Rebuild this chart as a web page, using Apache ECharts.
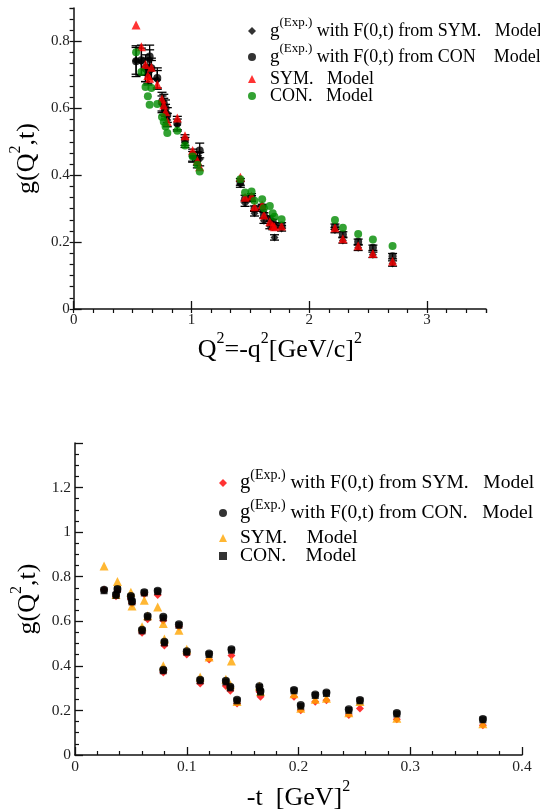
<!DOCTYPE html>
<html><head><meta charset="utf-8">
<script src="https://cdn.jsdelivr.net/npm/echarts@6/dist/echarts.min.js"></script>
<style>html,body{margin:0;padding:0;background:#fff}#c{width:540px;height:812px}</style>
</head><body><div id="c"></div>
<script>
// ---------- Top panel: g(Q^2,t) vs Q^2 ----------
const topQ2 = [0.53,0.575,0.61,0.63,0.645,0.66,0.71,0.75,0.765,0.78,0.795,0.88,0.945,1.01,1.05,1.07,
  1.415,1.455,1.51,1.535,1.60,1.615,1.665,1.69,1.705,1.765,
  2.218,2.285,2.415,2.54,2.707];
const topSymExp = [0.742,0.74,0.715,0.70,0.745,0.715,0.685,0.612,0.605,0.59,0.565,0.55,0.498,0.455,0.44,0.448,
  0.373,0.316,0.33,0.286,0.30,0.264,0.248,0.245,0.214,0.241,
  0.236,0.205,0.183,0.162,0.136];
const topConExp = [0.741,0.744,0.72,0.71,0.755,0.72,0.691,0.62,0.615,0.60,0.58,0.556,0.505,0.46,0.45,0.474,
  0.38,0.33,0.335,0.30,0.305,0.28,0.27,0.26,0.25,0.25,
  0.246,0.223,0.201,0.183,0.158];
const topSymModel = [0.849,0.784,0.731,0.698,0.69,0.723,0.671,0.628,0.61,0.59,0.561,0.571,0.518,0.474,0.444,0.425,
  0.394,0.334,0.338,0.306,0.311,0.281,0.261,0.25,0.246,0.248,
  0.243,0.21,0.189,0.166,0.143];
const topConModel = [0.768,0.709,0.664,0.636,0.611,0.661,0.613,0.574,0.56,0.546,0.526,0.533,0.489,0.456,0.431,0.411,
  0.388,0.348,0.351,0.324,0.328,0.301,0.308,0.286,0.276,0.268,
  0.266,0.243,0.224,0.208,0.188];
const topErrConExp = [0.046,0.045,0.04,0.035,0.034,0.03,0.03,0.028,0.027,0.025,0.022,0.02,0.016,0.018,0.02,0.022,
  0.01,0.01,0.01,0.008,0.008,0.008,0.008,0.008,0.008,0.008,
  0.008,0.008,0.008,0.008,0.008];
const topErrSymExp = [0.04,0.04,0.035,0.03,0.03,0.028,0.028,0.025,0.025,0.022,0.02,0.018,0.015,0.016,0.018,0.02,
  0.009,0.009,0.009,0.008,0.008,0.008,0.008,0.008,0.008,0.008,
  0.008,0.008,0.008,0.008,0.008];

// ---------- Bottom panel: g(Q^2,t) vs -t ----------
const botT = [0.026,0.0367,0.038,0.050,0.051,0.060,0.062,0.065,0.074,0.079,0.080,0.079,0.093,0.100,0.112,0.120,
  0.135,0.139,0.140,0.145,0.165,0.166,0.196,0.202,0.215,0.225,0.245,0.255,0.288,0.365];
const botSymExp = [0.742,0.712,0.735,0.70,0.68,0.549,0.721,0.609,0.718,0.604,0.491,0.370,0.575,0.451,0.321,0.428,
  0.310,0.288,0.446,0.231,0.284,0.261,0.261,0.201,0.239,0.246,0.179,0.209,0.160,0.134];
const botConExp = [0.742,0.72,0.745,0.714,0.69,0.562,0.73,0.624,0.737,0.62,0.508,0.383,0.587,0.466,0.338,0.456,
  0.333,0.306,0.474,0.248,0.308,0.287,0.292,0.224,0.271,0.281,0.205,0.247,0.188,0.162];
const botSymModel = [0.848,0.72,0.778,0.730,0.669,0.575,0.694,0.625,0.664,0.590,0.52,0.40,0.560,0.475,0.35,0.44,
  0.34,0.315,0.422,0.24,0.31,0.285,0.275,0.21,0.25,0.255,0.19,0.24,0.165,0.14];
const botConModel = [0.737,0.716,0.742,0.709,0.687,0.557,0.727,0.619,0.733,0.615,0.503,0.378,0.582,0.461,0.333,0.451,
  0.328,0.301,0.470,0.243,0.303,0.282,0.288,0.219,0.267,0.276,0.200,0.243,0.184,0.158];

const topXTicks = [0, 1, 2, 3];
const topYTicks = [0, 0.2, 0.4, 0.6, 0.8];
const botXTicks = [0, 0.1, 0.2, 0.3, 0.4];
const botYTicks = [0, 0.2, 0.4, 0.6, 0.8, 1, 1.2];

const legendLabels = {
  tSymExp: '{g|g}{sup|(Exp.)}{t| with F(0,t) from SYM.   Model}',
  tConExp: '{g|g}{sup|(Exp.)}{t| with F(0,t) from CON    Model}',
  tSymMod: '{t|SYM.   Model}',
  tConMod: '{t|CON.   Model}',
  bSymExp: '{g|g}{sup|(Exp.)}{t| with F(0,t) from SYM.   Model}',
  bConExp: '{g|g}{sup|(Exp.)}{t| with F(0,t) from CON.   Model}',
  bSymMod: '{t|SYM.    Model}',
  bConMod: '{t|CON.    Model}'
};

const pairs = (xs, ys) => xs.map((x, i) => [x, ys[i]]);
const triples = (xs, ys, es) => xs.map((x, i) => [x, ys[i], es[i]]);

const SERIF = '"Liberation Serif","DejaVu Serif",serif';

function errRender(params, api) {
  const x = api.value(0), y = api.value(1), e = api.value(2);
  const p1 = api.coord([x, y + e]), p2 = api.coord([x, y - e]);
  const w = 4.5;
  const st = { stroke: '#000', lineWidth: 1.3 };
  return { type: 'group', children: [
    { type: 'line', shape: { x1: p1[0], y1: p1[1], x2: p2[0], y2: p2[1] }, style: st },
    { type: 'line', shape: { x1: p1[0] - w, y1: p1[1], x2: p1[0] + w, y2: p1[1] }, style: st },
    { type: 'line', shape: { x1: p2[0] - w, y1: p2[1], x2: p2[0] + w, y2: p2[1] }, style: st }
  ]};
}

const axisLineStyle = { color: '#111', width: 1.5 };
const labelStyle = (fs) => ({ fontFamily: SERIF, fontSize: fs, color: '#222' });

function mainAxis(grid, min, max, interval, ticks, fs, extra) {
  return Object.assign({
    type: 'value', gridIndex: grid, min, max, interval,
    axisLine: { show: true, onZero: false, lineStyle: axisLineStyle },
    axisTick: { show: true, inside: true, length: 8, lineStyle: { color: '#111', width: 1.3 } },
    axisLabel: Object.assign({ margin: 4, showMaxLabel: ticks.indexOf(max) >= 0,
      formatter: v => (ticks.some(t => Math.abs(t - v) < 1e-9) ? String(+v.toFixed(2)) : '') }, labelStyle(fs)),
    splitLine: { show: false }
  }, extra || {});
}
function minorAxis(grid, min, max, interval) {
  return {
    type: 'value', gridIndex: grid, min, max, interval,
    axisLine: { show: false },
    axisTick: { show: true, inside: true, length: 4, lineStyle: { color: '#111', width: 1.2 } },
    axisLabel: { show: false }, splitLine: { show: false }
  };
}

const nameRich = (fs) => ({
  s: { fontFamily: SERIF, fontSize: Math.round(fs * 0.62), verticalAlign: 'top', lineHeight: Math.round(fs * 0.62), color: '#000' },
  n: { fontFamily: SERIF, fontSize: fs, lineHeight: fs + 6, verticalAlign: 'bottom', color: '#000' }
});

function legendItem(name, left, top, fs, supFs, pad) {
  return {
    data: [name], left, top, orient: 'vertical', itemWidth: 8, itemHeight: 8, padding: 0,
    formatter: n => legendLabels[n],
    textStyle: {
      fontFamily: SERIF, fontSize: fs, color: '#000',
      rich: {
        g: { fontFamily: SERIF, fontSize: fs + 1, lineHeight: 30, color: '#000', padding: [0, 0, 0, pad] },
        sup: { fontFamily: SERIF, fontSize: supFs, lineHeight: supFs + 2, verticalAlign: 'top', color: '#000' },
        t: { fontFamily: SERIF, fontSize: fs, lineHeight: 20, color: '#000', padding: legendLabels[name].startsWith('{t') ? [0, 0, 0, pad] : 0 }
      }
    }
  };
}

const option = {
  backgroundColor: '#fff',
  animation: false,
  grid: [
    { left: 72, right: 54, top: 8, height: 301 },
    { left: 75, right: 18, top: 443, height: 312 }
  ],
  xAxis: [
    mainAxis(0, 0, 3.5, 1, topXTicks, 15, {
      name: '{n|Q}{s|2}{n|=-q}{s|2}{n|[GeV/c]}{s|2}', nameLocation: 'middle', nameGap: 22,
      nameTextStyle: { rich: nameRich(26) }
    }),
    mainAxis(1, 0, 0.4, 0.1, botXTicks, 15.5, {
      name: '{n|-t  [GeV]}{s|2}', nameLocation: 'middle', nameGap: 24,
      nameTextStyle: { rich: nameRich(26) },
      minorTick: { show: true, splitNumber: 5, length: 4, lineStyle: { color: '#111', width: 1.2 } }
    }),
    minorAxis(0, 0, 3.5, 1 / 6)
  ],
  yAxis: [
    mainAxis(0, 0, 0.9, 0.2, topYTicks, 15, {
      name: '{n|g(Q}{s|2}{n|,t)}', nameLocation: 'middle', nameGap: 26,
      nameTextStyle: { rich: nameRich(26) }
    }),
    mainAxis(1, 0, 1.4, 0.2, botYTicks, 15.5, {
      name: '{n|g(Q}{s|2}{n|,t)}', nameLocation: 'middle', nameGap: 29,
      nameTextStyle: { rich: nameRich(26) },
      minorTick: { show: true, splitNumber: 4, length: 4, lineStyle: { color: '#111', width: 1.2 } }
    }),
    minorAxis(0, 0, 0.9, 1 / 30)
  ],
  legend: [
    legendItem('tSymExp', 248, 16, 18, 13, 9),
    legendItem('tConExp', 248, 42, 18, 13, 9),
    legendItem('tSymMod', 248, 70, 18, 13, 9),
    legendItem('tConMod', 248, 87, 18, 13, 9),
    legendItem('bSymExp', 219, 468, 19.5, 14, 8),
    legendItem('bConExp', 219, 498, 19.5, 14, 8),
    legendItem('bSymMod', 219, 528, 19.5, 14, 8),
    legendItem('bConMod', 219, 546, 19.5, 14, 8)
  ],
  series: [
    // top
    { name: 'tSymExpErr', type: 'custom', xAxisIndex: 0, yAxisIndex: 0, renderItem: errRender,
      data: triples(topQ2, topSymExp, topErrSymExp), z: 2, silent: true },
    { name: 'tSymExp', type: 'scatter', xAxisIndex: 0, yAxisIndex: 0, symbol: 'diamond', symbolSize: 8,
      itemStyle: { color: '#000' }, data: pairs(topQ2, topSymExp), z: 3 },
    { name: 'tConExpErr', type: 'custom', xAxisIndex: 0, yAxisIndex: 0, renderItem: errRender,
      data: triples(topQ2, topConExp, topErrConExp), z: 4, silent: true },
    { name: 'tConExp', type: 'scatter', xAxisIndex: 0, yAxisIndex: 0, symbol: 'circle', symbolSize: 8,
      itemStyle: { color: '#000' }, data: pairs(topQ2, topConExp), z: 5 },
    { name: 'tSymMod', type: 'scatter', xAxisIndex: 0, yAxisIndex: 0, symbol: 'triangle', symbolSize: 9,
      itemStyle: { color: '#ff0000' }, data: pairs(topQ2, topSymModel), z: 6 },
    { name: 'tConMod', type: 'scatter', xAxisIndex: 0, yAxisIndex: 0, symbol: 'circle', symbolSize: 8,
      itemStyle: { color: '#008b00' }, data: pairs(topQ2, topConModel), z: 7 },
    // bottom
    { name: 'bSymExp', type: 'scatter', xAxisIndex: 1, yAxisIndex: 1, symbol: 'diamond', symbolSize: 8,
      itemStyle: { color: '#ff0000' }, data: pairs(botT, botSymExp), z: 3 },
    { name: 'bSymMod', type: 'scatter', xAxisIndex: 1, yAxisIndex: 1, symbol: 'triangle', symbolSize: 9,
      itemStyle: { color: '#ffa500' }, data: pairs(botT, botSymModel), z: 4 },
    { name: 'bConExp', type: 'scatter', xAxisIndex: 1, yAxisIndex: 1, symbol: 'circle', symbolSize: 8,
      itemStyle: { color: '#000' }, data: pairs(botT, botConExp), z: 5 },
    { name: 'bConMod', type: 'scatter', xAxisIndex: 1, yAxisIndex: 1, symbol: 'rect', symbolSize: 7,
      itemStyle: { color: '#000' }, data: pairs(botT, botConModel), z: 6 }
  ]
};

const chart = echarts.init(document.getElementById('c'), null, { renderer: 'canvas' });
chart.setOption(option);
</script>
</body></html>
